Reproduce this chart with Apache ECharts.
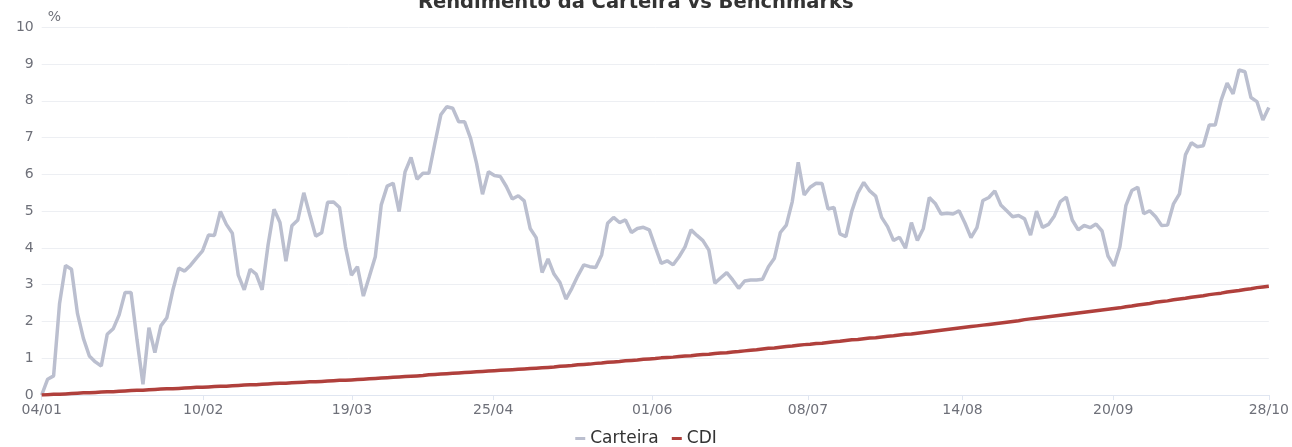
<!DOCTYPE html>
<html>
<head>
<meta charset="utf-8">
<script src="https://cdn.jsdelivr.net/npm/echarts@6/dist/echarts.min.js"></script>
<style>
html,body{margin:0;padding:0;background:#fff;}
#chart{width:1292px;height:447px;}
</style>
</head>
<body>
<div id="chart"></div>
<script>
const year = 2021;
const dates = [
'04/01','05/01','06/01','07/01','08/01','11/01','12/01','13/01','14/01','15/01','18/01','19/01','20/01','21/01','22/01','25/01','26/01','27/01','28/01','29/01',
'01/02','02/02','03/02','04/02','05/02','08/02','09/02','10/02','11/02','12/02','17/02','18/02','19/02','22/02','23/02','24/02','25/02','26/02',
'01/03','02/03','03/03','04/03','05/03','08/03','09/03','10/03','11/03','12/03','15/03','16/03','17/03','18/03','19/03','22/03','23/03','24/03','25/03','26/03','29/03','30/03','31/03',
'01/04','05/04','06/04','07/04','08/04','09/04','12/04','13/04','14/04','15/04','16/04','19/04','20/04','22/04','23/04','26/04','27/04','28/04','29/04','30/04',
'03/05','04/05','05/05','06/05','07/05','10/05','11/05','12/05','13/05','14/05','17/05','18/05','19/05','20/05','21/05','24/05','25/05','26/05','27/05','28/05','31/05',
'01/06','02/06','04/06','07/06','08/06','09/06','10/06','11/06','14/06','15/06','16/06','17/06','18/06','21/06','22/06','23/06','24/06','25/06','28/06','29/06','30/06',
'01/07','02/07','05/07','06/07','07/07','08/07','09/07','12/07','13/07','14/07','15/07','16/07','19/07','20/07','21/07','22/07','23/07','26/07','27/07','28/07','29/07','30/07',
'02/08','03/08','04/08','05/08','06/08','09/08','10/08','11/08','12/08','13/08','16/08','17/08','18/08','19/08','20/08','23/08','24/08','25/08','26/08','27/08','30/08','31/08',
'01/09','02/09','03/09','06/09','08/09','09/09','10/09','13/09','14/09','15/09','16/09','17/09','20/09','21/09','22/09','23/09','24/09','27/09','28/09','29/09','30/09',
'01/10','04/10','05/10','06/10','07/10','08/10','11/10','13/10','14/10','15/10','18/10','19/10','20/10','21/10','22/10','25/10','26/10','27/10','28/10'
];
const carteira = [
0, 0.43, 0.52, 2.49, 3.52, 3.42, 2.22, 1.54, 1.06, 0.9,
0.79, 1.65, 1.8, 2.18, 2.79, 2.79, 1.5, 0.29, 1.83, 1.15,
1.88, 2.1, 2.84, 3.45, 3.37, 3.53, 3.73, 3.92, 4.35, 4.34,
4.99, 4.64, 4.4, 3.26, 2.86, 3.42, 3.29, 2.86, 4.08, 5.05,
4.69, 3.64, 4.6, 4.76, 5.5, 4.9, 4.32, 4.41, 5.24, 5.25,
5.1, 4.03, 3.26, 3.49, 2.69, 3.22, 3.76, 5.17, 5.68, 5.76,
4.99, 6.07, 6.46, 5.87, 6.03, 6.03, 6.84, 7.62, 7.84, 7.8,
7.43, 7.43, 6.98, 6.3, 5.46, 6.07, 5.97, 5.94, 5.67, 5.33,
5.42, 5.28, 4.53, 4.28, 3.33, 3.7, 3.29, 3.06, 2.61, 2.9,
3.24, 3.54, 3.49, 3.47, 3.81, 4.67, 4.83, 4.69, 4.76, 4.42,
4.53, 4.56, 4.49, 4.03, 3.58, 3.65, 3.54, 3.76, 4.03, 4.49,
4.34, 4.2, 3.94, 3.04, 3.19, 3.33, 3.13, 2.9, 3.1, 3.13,
3.13, 3.15, 3.49, 3.72, 4.42, 4.62, 5.26, 6.33, 5.44, 5.65,
5.76, 5.75, 5.06, 5.1, 4.38, 4.31, 5.0, 5.49, 5.78, 5.55,
5.41, 4.83, 4.58, 4.2, 4.29, 3.99, 4.69, 4.2, 4.53, 5.37,
5.21, 4.92, 4.94, 4.92, 5.01, 4.67, 4.28, 4.55, 5.29, 5.37,
5.55, 5.17, 5.01, 4.85, 4.88, 4.79, 4.35, 5.0, 4.56, 4.64,
4.87, 5.26, 5.38, 4.76, 4.49, 4.61, 4.55, 4.65, 4.46, 3.78,
3.51, 4.03, 5.15, 5.56, 5.65, 4.93, 5.01, 4.85, 4.61, 4.62,
5.2, 5.47, 6.53, 6.86, 6.75, 6.78, 7.34, 7.34, 8.02, 8.48,
8.19, 8.84, 8.79, 8.09, 7.98, 7.48, 7.82
];
const cdi = [
0, 0.01, 0.02, 0.02, 0.03, 0.04, 0.05, 0.06, 0.06, 0.07,
0.08, 0.09, 0.09, 0.10, 0.11, 0.12, 0.13, 0.13, 0.14, 0.15,
0.16, 0.17, 0.17, 0.18, 0.19, 0.20, 0.21, 0.21, 0.22, 0.23,
0.24, 0.24, 0.25, 0.26, 0.27, 0.28, 0.28, 0.29, 0.30, 0.31,
0.32, 0.32, 0.33, 0.34, 0.35, 0.36, 0.36, 0.37, 0.38, 0.39,
0.40, 0.40, 0.41, 0.42, 0.43, 0.44, 0.45, 0.46, 0.47, 0.48,
0.49, 0.50, 0.51, 0.52, 0.53, 0.55, 0.56, 0.57, 0.58, 0.59,
0.60, 0.61, 0.62, 0.63, 0.64, 0.65, 0.66, 0.67, 0.68, 0.69,
0.70, 0.71, 0.72, 0.73, 0.74, 0.75, 0.76, 0.78, 0.79, 0.80,
0.82, 0.83, 0.84, 0.86, 0.87, 0.89, 0.90, 0.91, 0.93, 0.94,
0.95, 0.97, 0.98, 0.99, 1.01, 1.02, 1.03, 1.05, 1.06, 1.07,
1.09, 1.10, 1.11, 1.13, 1.14, 1.15, 1.17, 1.18, 1.20, 1.22,
1.23, 1.25, 1.27, 1.28, 1.30, 1.32, 1.33, 1.35, 1.37, 1.38,
1.40, 1.41, 1.43, 1.45, 1.46, 1.48, 1.50, 1.51, 1.53, 1.55,
1.56, 1.58, 1.60, 1.61, 1.63, 1.65, 1.66, 1.68, 1.70, 1.72,
1.74, 1.76, 1.78, 1.80, 1.82, 1.84, 1.86, 1.88, 1.90, 1.92,
1.94, 1.96, 1.98, 2.00, 2.02, 2.05, 2.07, 2.09, 2.11, 2.13,
2.15, 2.17, 2.19, 2.21, 2.23, 2.25, 2.27, 2.29, 2.31, 2.33,
2.35, 2.37, 2.40, 2.42, 2.45, 2.47, 2.49, 2.52, 2.54, 2.56,
2.59, 2.61, 2.63, 2.66, 2.68, 2.70, 2.73, 2.75, 2.77, 2.80,
2.82, 2.84, 2.87, 2.89, 2.92, 2.94, 2.96
];
const tickLabels = ['04/01','10/02','19/03','25/04','01/06','08/07','14/08','20/09','28/10'];
const seriesNames = ['Carteira','CDI'];

// time stamps of the trading days, used to place the evenly spaced (in time) axis labels
const ts = dates.map(s => { const p = s.split('/').map(Number); return Date.UTC(year, p[1]-1, p[0]); });
function timeToIndex(t){
  for (let i = 0; i < ts.length - 1; i++) {
    if (t >= ts[i] && t <= ts[i+1]) return i + (t - ts[i]) / (ts[i+1] - ts[i]);
  }
  return ts.length - 1;
}
const nT = tickLabels.length;
const tickPos = tickLabels.map((_, k) => timeToIndex(ts[0] + k * (ts[ts.length-1] - ts[0]) / (nT - 1)));
function labelFor(v){
  let best = 0;
  tickPos.forEach((p, k) => { if (Math.abs(p - v) < Math.abs(tickPos[best] - v)) best = k; });
  return tickLabels[best];
}

const chart = echarts.init(document.getElementById('chart'), null, {renderer:'canvas'});
chart.setOption({
  animation: false,
  backgroundColor: '#ffffff',
  title: {
    text: 'Rendimento da Carteira vs Benchmarks',
    left: 413,
    top: -12,
    textStyle: {fontSize: 19.5, fontWeight: 'bold', color: '#333333', fontFamily: 'DejaVu Sans'}
  },
  legend: {
    data: seriesNames,
    bottom: 0,
    padding: 0,
    itemGap: 13,
    itemWidth: 10,
    itemHeight: 3,
    icon: 'rect',
    textStyle: {fontSize: 17, color: '#333333', fontFamily: 'DejaVu Sans'}
  },
  grid: {left: 41.7, right: 22.7, top: 27.3, bottom: 52},
  xAxis: {
    type: 'value',
    min: 0,
    max: dates.length - 1,
    splitLine: {show: false},
    axisLine: {lineStyle: {color: '#E0E6F1'}},
    axisTick: {show: true, customValues: tickPos, length: 5, lineStyle: {color: '#E0E6F1'}},
    axisLabel: {customValues: tickPos, formatter: v => labelFor(v), fontSize: 14, color: '#6E7079', margin: 8, fontFamily: 'DejaVu Sans'}
  },
  yAxis: {
    type: 'value',
    min: 0, max: 10, interval: 1,
    name: '%',
    nameGap: 3,
    nameTextStyle: {fontSize: 14, color: '#6E7079', align: 'left', padding: [0,0,0,6], fontFamily: 'DejaVu Sans'},
    axisLine: {show: false},
    axisTick: {show: false},
    splitLine: {lineStyle: {color: '#EDEFF3'}},
    axisLabel: {fontSize: 14, color: '#6E7079', margin: 8, fontFamily: 'DejaVu Sans'}
  },
  series: [
    {
      name: seriesNames[0], type: 'line', showSymbol: false, symbol: 'none',
      data: carteira.map((v, i) => [i, v]),
      lineStyle: {width: 3.5, color: '#BBBFCF'}, itemStyle: {color: '#BBBFCF'}
    },
    {
      name: seriesNames[1], type: 'line', showSymbol: false, symbol: 'none',
      data: cdi.map((v, i) => [i, v]),
      lineStyle: {width: 3.5, color: '#B0403C'}, itemStyle: {color: '#B0403C'}
    }
  ]
});
</script>
</body>
</html>
